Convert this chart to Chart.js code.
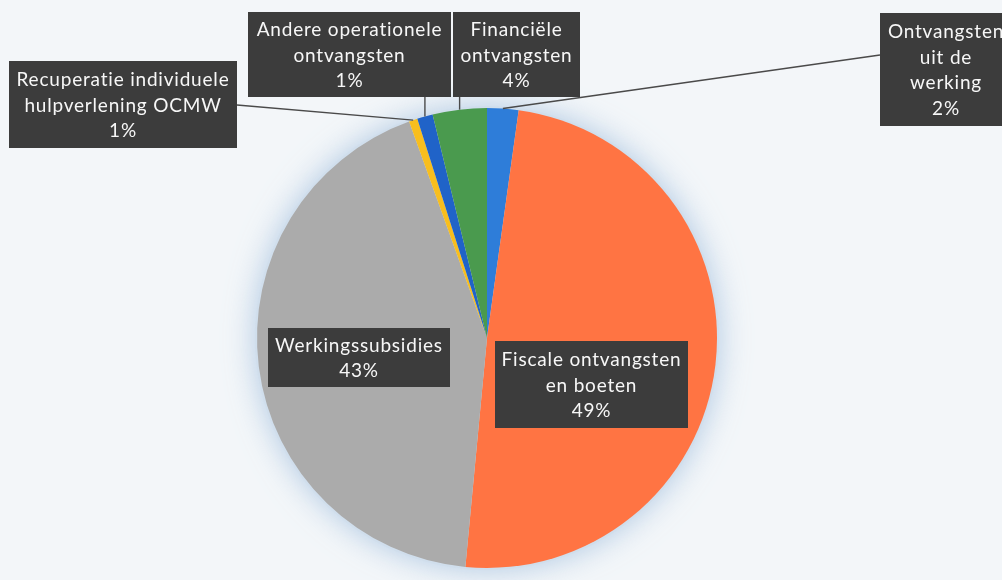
<!DOCTYPE html>
<html>
<head>
<meta charset="utf-8">
<script src="https://cdn.jsdelivr.net/npm/chart.js@4.4.1/dist/chart.umd.min.js"></script>
<style>
  html, body { margin: 0; padding: 0; background: #F3F6F9; }
  #wrap { width: 1002px; height: 580px; position: relative; }
</style>
</head>
<body>
<div id="wrap"><canvas id="c" width="1002" height="580"></canvas></div>
<script>
// ---- data ----
const categories = [
  'Ontvangsten uit de werking',
  'Fiscale ontvangsten en boeten',
  'Werkingssubsidies',
  'Recuperatie individuele hulpverlening OCMW',
  'Andere operationele ontvangsten',
  'Financiële ontvangsten'
];
const values = [2.2, 49.3, 43.0, 0.6, 1.1, 3.8];
const labelLines = [
  ['Ontvangsten', 'uit de', 'werking'],
  ['Fiscale ontvangsten', 'en boeten'],
  ['Werkingssubsidies'],
  ['Recuperatie individuele', 'hulpverlening OCMW'],
  ['Andere operationele', 'ontvangsten'],
  ['Financiële', 'ontvangsten']
];
const colors = ['#2E7DD9', '#FF7443', '#ABABAB', '#F8BE1E', '#2063C8', '#4A9A4E'];

// ---- label box layout (positions only) ----
const boxes = [
  { x: 880, y: 13, w: 132, h: 113, anchor: 'left', ay: 55 },
  { x: 495, y: 341, w: 193, h: 87, anchor: null },
  { x: 268, y: 328, w: 182, h: 59, anchor: null },
  { x: 9, y: 61, w: 228, h: 87, anchor: 'right', ay: 105 },
  { x: 248, y: 12, w: 203, h: 85, anchor: 'bottom' },
  { x: 453, y: 12, w: 127, h: 85, anchor: 'bottom' }
];

const FONT = '19px Lato, "Open Sans", sans-serif';
const LINE_H = 25.5;

const total = values.reduce((a, b) => a + b, 0);
const pctText = values.map(v => Math.round(v / total * 100) + '%');

const glowPlugin = {
  id: 'glow',
  beforeDatasetsDraw(chart) {
    const arc = chart.getDatasetMeta(0).data[0];
    if (!arc) return;
    const ctx = chart.ctx;
    ctx.save();
    ctx.shadowColor = 'rgba(150,182,218,0.7)';
    ctx.shadowBlur = 30;
    ctx.fillStyle = '#D0DEEC';
    ctx.beginPath();
    ctx.arc(arc.x, arc.y, arc.outerRadius + 2, 0, Math.PI * 2);
    ctx.fill();
    ctx.restore();
  }
};

const labelPlugin = {
  id: 'labelBoxes',
  afterDatasetsDraw(chart) {
    const ctx = chart.ctx;
    const meta = chart.getDatasetMeta(0);
    ctx.save();
    // leader lines
    ctx.strokeStyle = '#4A4A4A';
    ctx.lineWidth = 1.4;
    meta.data.forEach((arc, i) => {
      const b = boxes[i];
      if (!b.anchor) return;
      const mid = (arc.startAngle + arc.endAngle) / 2;
      const px = arc.x + Math.cos(mid) * arc.outerRadius;
      const py = arc.y + Math.sin(mid) * arc.outerRadius;
      let sx, sy;
      if (b.anchor === 'right') { sx = b.x + b.w; sy = b.ay; }
      else if (b.anchor === 'left') { sx = b.x; sy = b.ay; }
      else { sx = px; sy = b.y + b.h; }
      ctx.beginPath();
      ctx.moveTo(sx, sy);
      ctx.lineTo(px, py);
      ctx.stroke();
    });
    // boxes
    ctx.font = FONT;
    if ('letterSpacing' in ctx) ctx.letterSpacing = '0.8px';
    ctx.textAlign = 'center';
    ctx.textBaseline = 'middle';
    meta.data.forEach((arc, i) => {
      const b = boxes[i];
      ctx.fillStyle = '#3C3C3C';
      ctx.fillRect(b.x, b.y, b.w, b.h);
      const lines = labelLines[i].concat([pctText[i]]);
      const cx = b.x + b.w / 2;
      const cy = b.y + b.h / 2;
      const start = cy - (lines.length - 1) * LINE_H / 2;
      ctx.fillStyle = '#F7F7F7';
      lines.forEach((t, k) => ctx.fillText(t, cx, start + k * LINE_H + 1));
    });
    ctx.restore();
  }
};

function draw() {
  new Chart(document.getElementById('c'), {
    type: 'pie',
    data: {
      labels: categories,
      datasets: [{
        data: values,
        backgroundColor: colors,
        borderWidth: 0,
        hoverOffset: 0
      }]
    },
    options: {
      responsive: false,
      animation: false,
      rotation: 0,
      layout: { padding: { left: 0, right: 28, top: 108, bottom: 12 } },
      plugins: {
        legend: { display: false },
        tooltip: { enabled: false }
      }
    },
    plugins: [glowPlugin, labelPlugin]
  });
}
if (document.fonts && document.fonts.load) {
  document.fonts.load(FONT).then(draw, draw);
} else {
  draw();
}
</script>
</body>
</html>
